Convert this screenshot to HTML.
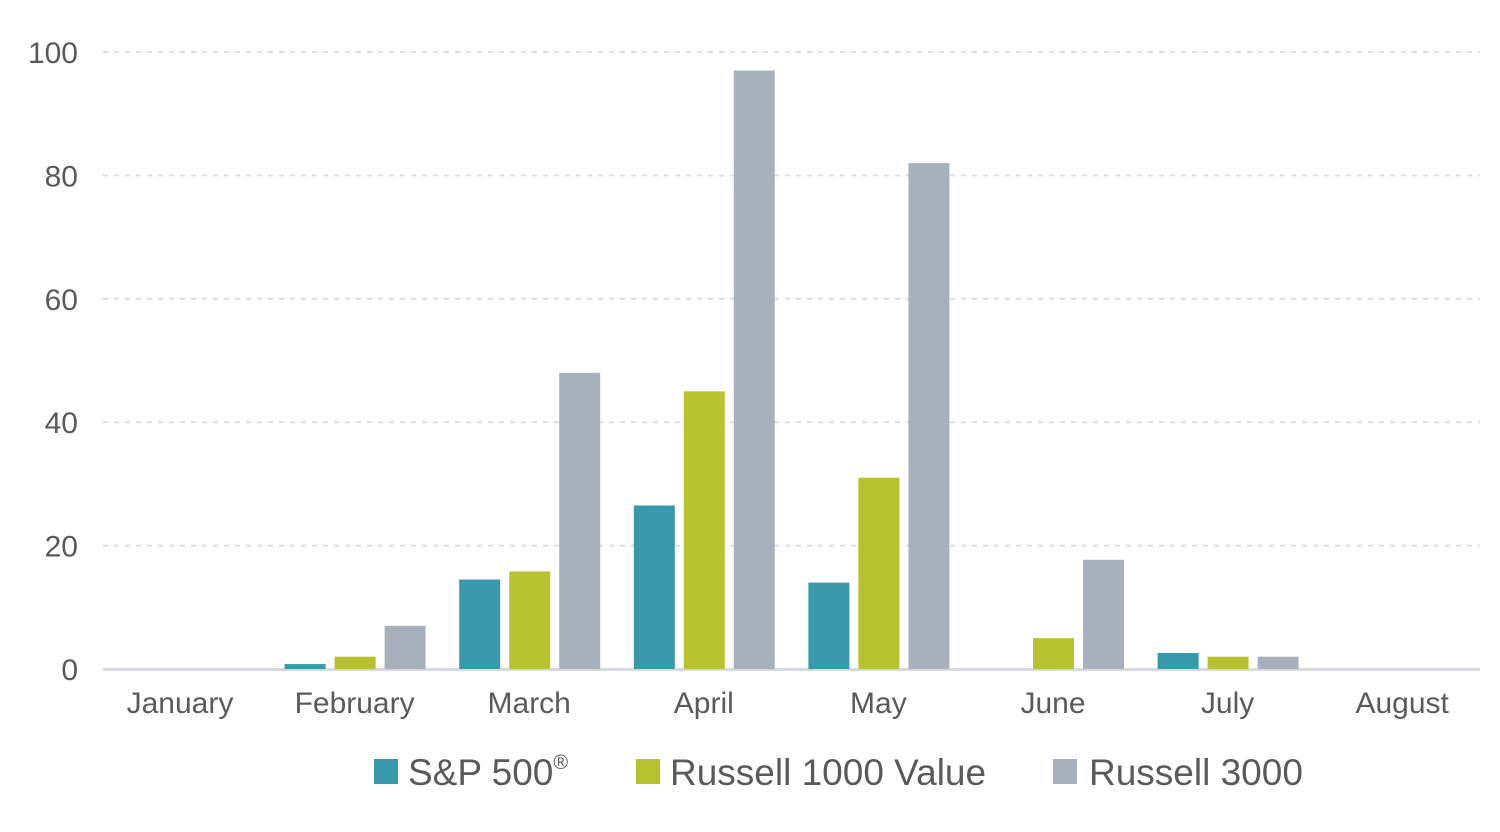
<!DOCTYPE html>
<html><head><meta charset="utf-8"><style>
html,body{margin:0;padding:0;background:#fff;}
svg{display:block;font-family:"Liberation Sans",sans-serif;}
</style></head><body>
<svg id="chart" width="1500" height="832">
<g id="grid"></g><g id="bars"></g><g id="labels"></g>
<g>
<g><rect x="374" y="759" width="24" height="25" fill="#3799ab"/><text x="408" y="785" font-size="37" fill="#5a5a5a">S&amp;P 500<tspan font-size="20" dy="-16">®</tspan></text></g>
<g><rect x="636" y="759" width="24" height="25" fill="#b7c230"/><text x="670" y="785" font-size="37" fill="#5a5a5a">Russell 1000 Value</text></g>
<g><rect x="1053" y="759" width="24" height="25" fill="#a8b1bb"/><text x="1089" y="785" font-size="37" fill="#5a5a5a">Russell 3000</text></g>
</g>
</svg>
<script>
const categories=["January","February","March","April","May","June","July","August"];
const sp500=[0,0.8,14.5,26.5,14,0,2.6,0];
const r1000v=[0,2,15.8,45,31,5,2,0];
const r3000=[0,7,48,97,82,17.7,2,0];
const yTicks=[0,20,40,60,80,100];
const NS="http://www.w3.org/2000/svg";
const y=v=>669-v*6.17;
const xc=i=>180+i*174.6;
function mk(tag,attrs,parent){const e=document.createElementNS(NS,tag);for(const k in attrs)e.setAttribute(k,attrs[k]);parent.appendChild(e);return e;}
const grid=document.getElementById('grid'),bars=document.getElementById('bars'),labels=document.getElementById('labels');
yTicks.forEach(t=>{
  if(t>0){const l=mk('line',{x1:103,x2:1480,y1:y(t),y2:y(t),stroke:'#dcdfe3','stroke-width':2,'stroke-dasharray':'5,6'},grid);
  
  }
  const tx=mk('text',{x:78,y:y(t)+11,'text-anchor':'end','font-size':30,fill:'#5a5a5a'},labels);
  tx.textContent=t;
  
  
});
const base=mk('line',{x1:103,x2:1480,y1:669.5,y2:669.5,stroke:'#d6dadf','stroke-width':3},grid);


const series=[[sp500,'#3799ab','sp500',-70],[r1000v,'#b7c230','r1000v',-20],[r3000,'#a8b1bb','r3000',30]];
categories.forEach((c,i)=>{
  series.forEach(s=>{
    const v=s[0][i]; if(v<=0) return;
    const r=mk('rect',{x:xc(i)+s[3],y:y(v),width:41,height:669-y(v),fill:s[1]},bars);
    
    
  });
  const t=mk('text',{x:xc(i),y:713,'text-anchor':'middle','font-size':30,fill:'#5a5a5a'},labels);
  t.textContent=c;
  
  
});
</script>
</body></html>
